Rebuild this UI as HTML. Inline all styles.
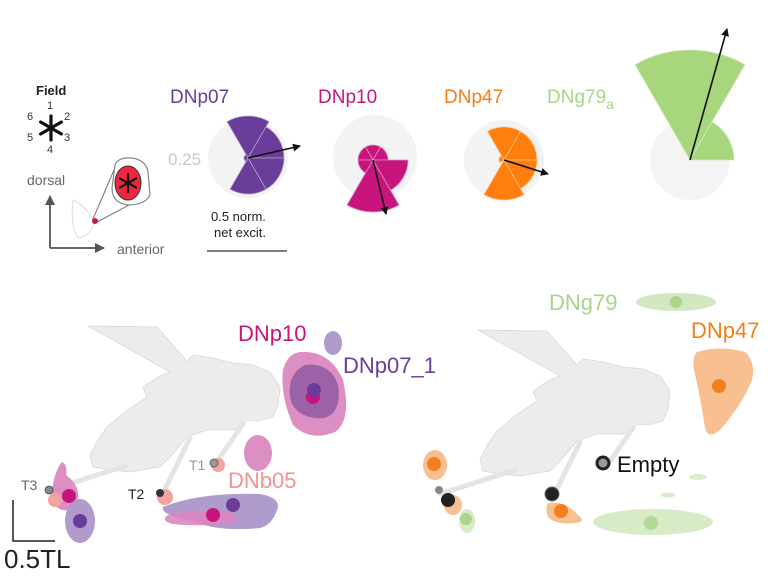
<!DOCTYPE html>
<html><head><meta charset="utf-8"><style>
html,body{margin:0;padding:0;background:#fff;}
svg{display:block;font-family:"Liberation Sans",Arial,sans-serif;}
</style></head><body>
<svg width="783" height="586" viewBox="0 0 783 586" xmlns="http://www.w3.org/2000/svg">
<defs>
<marker id="ah" markerWidth="8" markerHeight="8" refX="7" refY="4" orient="auto" markerUnits="userSpaceOnUse"><path d="M0,0 L8,4 L0,8 Z" fill="#111"/></marker>
<marker id="ag" markerWidth="10" markerHeight="10" refX="9" refY="5" orient="auto" markerUnits="userSpaceOnUse"><path d="M0,0 L10,5 L0,10 Z" fill="#555"/></marker>
<g id="fly">
<path d="M88,326 L157,327 L187,361 L193,355 L213,358 L233,363 L253,365 L270,372 L280,387 L278,405 L273,417 L258,421 L247,420 L240,428 L233,430 L207,430 L187,437 L172,455 L160,467 L130,472 L110,470 L93,467 L90,455 L98,440 L107,427 L125,412 L147,397 L143,387 L160,376 L170,372 Z" fill="#ececec" stroke="#d8d8d8" stroke-width="0.8"/>
<path d="M243,424 L216,463" stroke="#e4e4e4" stroke-width="5" stroke-linecap="round"/>
<path d="M190,438 L163,493" stroke="#e4e4e4" stroke-width="5" stroke-linecap="round"/>
<path d="M125,466 L50,490" stroke="#e4e4e4" stroke-width="5" stroke-linecap="round"/>
</g>
</defs>

<!-- Legend -->
<text x="36" y="95" font-size="13" font-weight="bold" fill="#222">Field</text>
<text x="47" y="109" font-size="11" fill="#333">1</text>
<text x="64" y="120" font-size="11" fill="#333">2</text>
<text x="64" y="141" font-size="11" fill="#333">3</text>
<text x="47" y="153" font-size="11" fill="#333">4</text>
<text x="27" y="120" font-size="11" fill="#333">6</text>
<text x="27" y="141" font-size="11" fill="#333">5</text>
<g stroke="#111" stroke-width="3.2" stroke-linecap="round">
<line x1="51" y1="116" x2="51" y2="140"/><line x1="40.6" y1="122" x2="61.4" y2="134"/><line x1="40.6" y1="134" x2="61.4" y2="122"/>
</g>
<text x="27" y="185" font-size="14" fill="#666">dorsal</text>
<path d="M50,248 L50,196" stroke="#666" stroke-width="2" marker-end="url(#ag)"/>
<path d="M50,248 L104,248" stroke="#666" stroke-width="2" marker-end="url(#ag)"/>
<text x="117" y="254" font-size="14" fill="#666">anterior</text>
<path d="M73,200 Q85,205 95,222 Q90,236 78,238 Q70,225 73,200Z" fill="none" stroke="#ddd" stroke-width="1"/>
<line x1="93" y1="219" x2="114" y2="170" stroke="#777" stroke-width="1"/>
<line x1="97" y1="222" x2="146" y2="196" stroke="#777" stroke-width="1"/>
<path d="M115,165 Q118,157 132,158 Q146,160 148,172 L150,195 Q145,205 128,205 Q112,203 112,188 Z" fill="#fff" stroke="#888" stroke-width="1.2"/>
<ellipse cx="128" cy="183" rx="13" ry="17" fill="#f0263f" stroke="#333" stroke-width="1"/>
<g stroke="#111" stroke-width="2.2" stroke-linecap="round">
<line x1="128" y1="174" x2="128" y2="192"/><line x1="120" y1="178.5" x2="136" y2="187.5"/><line x1="120" y1="187.5" x2="136" y2="178.5"/>
</g>
<circle cx="95" cy="221" r="3" fill="#c0203a"/>

<!-- Polar titles -->
<text x="170" y="103" font-size="19" fill="#6a3d9a">DNp07</text>
<text x="318" y="103" font-size="19" fill="#c8157d">DNp10</text>
<text x="444" y="103" font-size="19" fill="#f57f17">DNp47</text>
<text x="547" y="103" font-size="19" fill="#a8d58a">DNg79<tspan font-size="14" dy="6">a</tspan></text>
<text x="168" y="165" font-size="17" fill="#c8c8c8">0.25</text>

<!-- DNp07 -->
<circle cx="248" cy="158" r="40" fill="#f3f3f3"/>
<g fill="#6a3d9a" stroke="#b59fd0" stroke-width="0.8">
<path d="M248 158 L227 121.6 A42 42 0 0 1 269 121.6Z"/>
<path d="M248 158 L266 126.8 A36 36 0 0 1 284 158Z"/>
<path d="M248 158 L284 158 A36 36 0 0 1 266 189.2Z"/>
<path d="M248 158 L266 189.2 A36 36 0 0 1 230 189.2Z"/>
<path d="M248 158 L246 161.5 A4 4 0 0 1 244 158 A4 4 0 0 1 246 154.5Z"/>
</g>
<line x1="248" y1="158" x2="300" y2="146" stroke="#111" stroke-width="1.6" marker-end="url(#ah)"/>

<!-- DNp10 -->
<circle cx="375" cy="157" r="42" fill="#f3f3f3"/>
<g fill="#c8157d" stroke="#e08cc0" stroke-width="0.8">
<path d="M373 160 L365.5 147 A15 15 0 0 1 380.5 147Z"/>
<path d="M373 160 L380.5 147 A15 15 0 0 1 388 160Z"/>
<path d="M373 160 L358 160 A15 15 0 0 1 365.5 147Z"/>
<path d="M373 160 L408 160 A35 35 0 0 1 390.5 190.3Z"/>
<path d="M373 160 L399 205 A52 52 0 0 1 347 205Z"/>
<path d="M373 160 L365.5 173 A15 15 0 0 1 358 160Z"/>
</g>
<line x1="373" y1="160" x2="386" y2="214" stroke="#111" stroke-width="1.6" marker-end="url(#ah)"/>

<!-- DNp47 -->
<circle cx="504" cy="160" r="40" fill="#f3f3f3"/>
<g fill="#ff7f0e" stroke="#ffc08a" stroke-width="0.8">
<path d="M504 160 L487.5 131.4 A33 33 0 0 1 520.5 131.4Z"/>
<path d="M504 160 L520.5 131.4 A33 33 0 0 1 537 160Z"/>
<path d="M504 160 L537 160 A33 33 0 0 1 520.5 188.6Z"/>
<path d="M504 160 L524 194.6 A40 40 0 0 1 484 194.6Z"/>
<path d="M504 160 L499.7 162.5 A5 5 0 0 1 499 160 A5 5 0 0 1 501.5 155.7Z"/>
</g>
<line x1="504" y1="160" x2="548" y2="174" stroke="#111" stroke-width="1.6" marker-end="url(#ah)"/>

<!-- DNg79 -->
<circle cx="690" cy="160" r="40" fill="#f4f4f4"/>
<g fill="#a8d67c" stroke="#d0ebbb" stroke-width="0.8">
<path d="M690 160 L635 64.7 A110 110 0 0 1 745 64.7Z"/>
<path d="M690 160 L712 121.9 A44 44 0 0 1 734 160Z"/>
</g>
<line x1="690" y1="160" x2="727" y2="29" stroke="#111" stroke-width="1.6" marker-end="url(#ah)"/>

<text x="211" y="221" font-size="13" fill="#222">0.5 norm.</text>
<text x="214" y="237" font-size="13" fill="#222">net excit.</text>
<line x1="207" y1="251" x2="287" y2="251" stroke="#555" stroke-width="1.5"/>

<!-- Left fly panel -->
<use href="#fly"/>
<ellipse cx="333" cy="343" rx="9" ry="12" fill="#b09ccc"/>
<path d="M300,352 Q330,350 343,380 Q352,420 335,432 Q310,442 293,425 Q280,395 283,370 Q287,354 300,352Z" fill="#dd8ec2"/>
<path d="M305,365 Q330,362 338,385 Q342,412 325,418 Q300,420 291,402 Q285,375 305,365Z" fill="#9c62a8"/>
<circle cx="313" cy="397" r="7" fill="#c8157d"/>
<circle cx="314" cy="390" r="7" fill="#6a3d9a"/>
<ellipse cx="258" cy="453" rx="14" ry="18" fill="#dd8ec2"/>
<path d="M163,507 Q200,492 260,494 Q282,498 277,510 Q272,525 260,528 Q220,532 195,522 Q160,515 163,507Z" fill="#b09ccc"/>
<path d="M168,515 Q200,508 230,512 Q243,518 232,523 Q200,527 172,524 Q160,520 168,515Z" fill="#dc86bf" opacity="0.9"/>
<circle cx="213" cy="515" r="7" fill="#c8157d"/>
<circle cx="233" cy="505" r="7" fill="#6a3d9a"/>
<circle cx="218" cy="465" r="7" fill="#f4a3a0"/>
<circle cx="214" cy="463" r="4" fill="#9a9a9a" stroke="#555" stroke-width="0.8"/>
<circle cx="165" cy="497" r="8" fill="#f4a3a0"/>
<circle cx="160" cy="493" r="4" fill="#333"/>
<path d="M52,490 Q55,470 62,462 Q68,465 66,475 Q80,485 78,500 Q74,512 62,510 Q50,505 52,490Z" fill="#dd8ec2"/>
<ellipse cx="80" cy="521" rx="15" ry="22" fill="#b09ccc"/>
<circle cx="55" cy="500" r="7" fill="#f4a3a0"/>
<circle cx="69" cy="496" r="7" fill="#c8157d"/>
<circle cx="80" cy="521" r="7" fill="#6a3d9a"/>
<circle cx="49" cy="490" r="4" fill="#888" stroke="#444" stroke-width="0.8"/>
<text x="238" y="341" font-size="22" fill="#c8157d">DNp10</text>
<text x="343" y="373" font-size="22" fill="#6a3d9a">DNp07_1</text>
<text x="189" y="470" font-size="14" fill="#999">T1</text>
<text x="228" y="488" font-size="22" fill="#f4938f">DNb05</text>
<text x="128" y="499" font-size="14" fill="#222">T2</text>
<text x="21" y="490" font-size="14" fill="#666">T3</text>
<path d="M13,500 L13,541 L55,541" fill="none" stroke="#222" stroke-width="1.5"/>
<text x="4" y="568" font-size="26" fill="#222">0.5TL</text>

<!-- Right fly panel -->
<use href="#fly" transform="translate(390,4)"/>
<ellipse cx="676" cy="302" rx="40" ry="9" fill="#d2e8c2"/>
<circle cx="676" cy="302" r="6" fill="#acd48c"/>
<text x="549" y="310" font-size="22" fill="#a8d58a">DNg79</text>
<text x="691" y="338" font-size="22" fill="#f57f17">DNp47</text>
<path d="M697,352 Q720,345 745,352 Q756,362 752,380 Q742,405 720,430 Q708,440 705,428 Q700,395 694,370 Q692,356 697,352Z" fill="#f8c090"/>
<circle cx="719" cy="386" r="7" fill="#f2801e"/>
<circle cx="603" cy="463" r="6" fill="#999" stroke="#222" stroke-width="3"/>
<text x="617" y="472" font-size="22" fill="#111">Empty</text>
<ellipse cx="698" cy="477" rx="9" ry="3" fill="#d8ecca"/>
<ellipse cx="668" cy="495" rx="7" ry="2.5" fill="#d8ecca"/>
<ellipse cx="653" cy="522" rx="60" ry="13" fill="#d6ebc6"/>
<circle cx="651" cy="523" r="7" fill="#b2d996"/>
<path d="M548,503 Q565,500 578,515 Q587,522 575,523 Q555,525 548,517 Q545,508 548,503Z" fill="#f8c090"/>
<circle cx="561" cy="511" r="7" fill="#f2801e"/>
<circle cx="552" cy="494" r="7" fill="#222" stroke="#666" stroke-width="1"/>
<ellipse cx="435" cy="465" rx="12" ry="15" fill="#f8c090"/>
<circle cx="434" cy="464" r="7" fill="#f2801e"/>
<ellipse cx="453" cy="505" rx="9" ry="10" fill="#f8c090"/>
<ellipse cx="467" cy="521" rx="8" ry="12" fill="#d6ebc6"/>
<circle cx="466" cy="519" r="6" fill="#acd48c"/>
<circle cx="439" cy="490" r="4" fill="#888"/>
<circle cx="448" cy="500" r="7" fill="#222"/>
</svg>
</body></html>
